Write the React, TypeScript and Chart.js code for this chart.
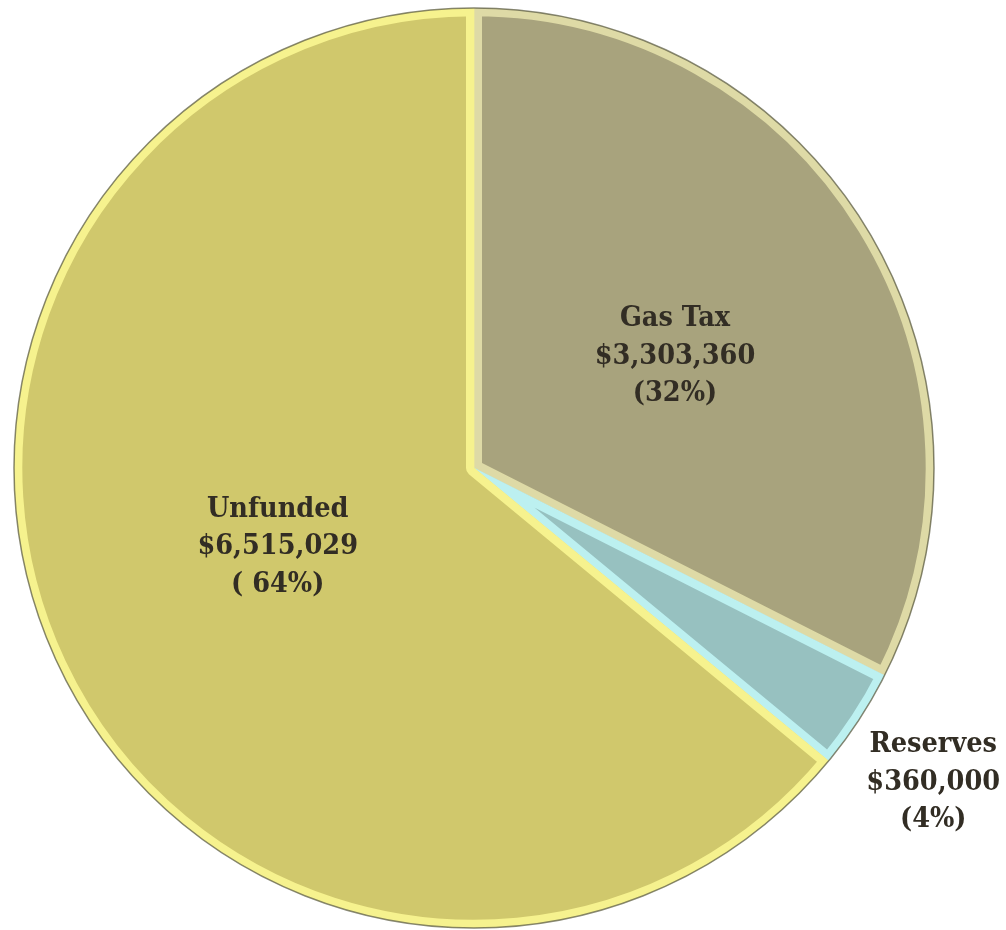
import React, { useEffect, useRef } from "react";
import { Chart, registerables } from "chart.js";

Chart.register(...registerables);

const categories = ["Gas Tax", "Reserves", "Unfunded"];
const amounts = [3303360, 360000, 6515029];
const amountLabels = ["$3,303,360", "$360,000", "$6,515,029"];
const percentLabels = ["(32%)", "(4%)", "( 64%)"];

const fillColors = ["#a8a37d", "#97c1c0", "#d0c86c"];
const bevelColors = ["#dedaa6", "#bcf0f0", "#f6f28e"];
const labelRadius = [0.5, 1.21, 0.46];
const labelAngleShift = [2.5, 1.2, 3.3];

const FONT = "bold 28.5px 'DejaVu Serif Condensed', 'DejaVu Serif', serif";
const LINE_H = 37.5;

const decorPlugin = {
  id: "decor",
  afterDatasetsDraw(chart: any) {
    const ctx = chart.ctx as CanvasRenderingContext2D;
    const meta = chart.getDatasetMeta(0);
    const arcs = meta.data;
    if (!arcs.length) return;
    const p0 = arcs[0].getProps(["x", "y", "outerRadius"], true);
    ctx.save();
    ctx.beginPath();
    ctx.arc(p0.x, p0.y, p0.outerRadius, 0, Math.PI * 2);
    ctx.strokeStyle = "rgba(95,95,70,0.75)";
    ctx.lineWidth = 1.5;
    ctx.stroke();
    ctx.font = FONT;
    ctx.fillStyle = "#322d24";
    ctx.textAlign = "center";
    ctx.textBaseline = "middle";
    arcs.forEach((arc: any, i: number) => {
      const p = arc.getProps(["x", "y", "startAngle", "endAngle", "outerRadius"], true);
      const mid = (p.startAngle + p.endAngle) / 2 + (labelAngleShift[i] * Math.PI) / 180;
      const r = p.outerRadius * labelRadius[i];
      const cx = p.x + Math.cos(mid) * r;
      const cy = p.y + Math.sin(mid) * r;
      const lines = [categories[i], amountLabels[i], percentLabels[i]];
      lines.forEach((t, k) => {
        ctx.fillText(t, cx, cy + (k - 1) * LINE_H);
      });
    });
    ctx.restore();
  },
};

export default function App() {
  const ref = useRef<HTMLCanvasElement | null>(null);
  useEffect(() => {
    if (!ref.current) return;
    const chart = new Chart(ref.current, {
      type: "pie",
      data: {
        labels: categories,
        datasets: [
          {
            data: amounts,
            backgroundColor: fillColors,
            borderColor: bevelColors,
            borderWidth: 8,
            borderAlign: "inner",
          },
        ],
      },
      options: {
        animation: false,
        responsive: true,
        maintainAspectRatio: false,
        layout: { padding: { left: 14, right: 72, top: 8, bottom: 2 } },
        plugins: {
          legend: { display: false },
          tooltip: { enabled: false },
        },
      },
      plugins: [decorPlugin],
    });
    return () => chart.destroy();
  }, []);
  return (
    <div style={{ position: "fixed", left: 0, top: 0, width: 1006, height: 930, background: "#fff" }}>
      <canvas ref={ref} />
    </div>
  );
}
